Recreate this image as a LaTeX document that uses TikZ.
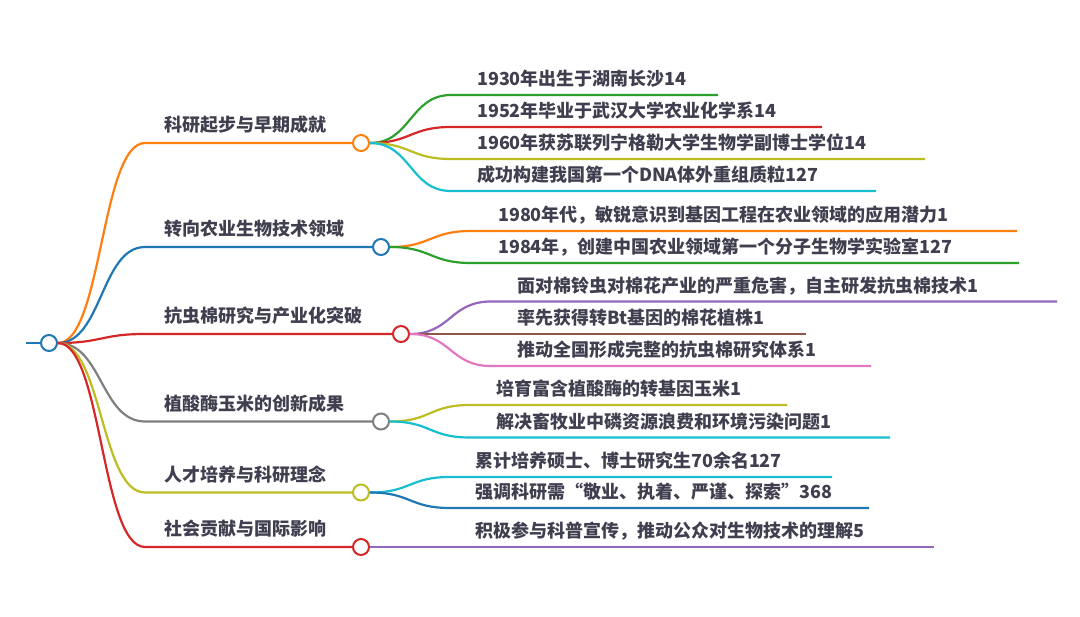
\documentclass[tikz,border=0pt]{standalone}
\usepackage{fontspec}
\setmainfont{Noto Sans CJK SC}
\definecolor{ink}{HTML}{3F3F4F}
\definecolor{tabblue}{HTML}{1F77B4}
\definecolor{taborange}{HTML}{FF7F0E}
\definecolor{tabgreen}{HTML}{2CA02C}
\definecolor{tabred}{HTML}{D62728}
\definecolor{tabpurple}{HTML}{9467BD}
\definecolor{tabbrown}{HTML}{8C564B}
\definecolor{tabpink}{HTML}{E377C2}
\definecolor{tabgray}{HTML}{7F7F7F}
\definecolor{tabolive}{HTML}{BCBD22}
\definecolor{tabcyan}{HTML}{17BECF}
\begin{document}
\begin{tikzpicture}[
    x=1pt, y=-1pt,
    line width=2.2pt,
    every node/.style={text=ink, font=\fontsize{18}{22}\selectfont\bfseries, inner sep=0pt, anchor=base west},
    dot/.style={circle, draw, fill=white, line width=2pt, minimum size=16pt, inner sep=0pt, anchor=center}
  ]
    \useasboundingbox (0,0) rectangle (1080,617);

    \node[dot, draw=tabblue] (root) at (49,343) {};
    \coordinate (stub) at (26,343);
    \draw[tabblue] (stub) -- (root.west);

    \node[dot, draw=taborange] (early) at (361,143) {};
    \node[dot, draw=tabblue] (agri) at (381,247) {};
    \node[dot, draw=tabred] (cotton) at (401,334) {};
    \node[dot, draw=tabgray] (maize) at (381,421.5) {};
    \node[dot, draw=tabolive] (talent) at (361,492.5) {};
    \node[dot, draw=tabred] (society) at (361,547) {};

    \node (earlylabel) at (163,132) {科研起步与早期成就};
    \node (agrilabel) at (163,236) {转向农业生物技术领域};
    \node (cottonlabel) at (163,323) {抗虫棉研究与产业化突破};
    \node (maizelabel) at (163,410.5) {植酸酶玉米的创新成果};
    \node (talentlabel) at (163,481.5) {人才培养与科研理念};
    \node (societylabel) at (163,536) {社会贡献与国际影响};

    \coordinate (earlyin) at (145,143);
    \coordinate (agriin) at (145,247);
    \coordinate (cottonin) at (145,334);
    \coordinate (maizein) at (145,421.5);
    \coordinate (talentin) at (145,492.5);
    \coordinate (societyin) at (145,547);
    \draw[taborange] (root.east) .. controls +(44,0) and +(-44,0) .. (earlyin) -- (early.west);
    \draw[tabblue] (root.east) .. controls +(44,0) and +(-44,0) .. (agriin) -- (agri.west);
    \draw[tabred] (root.east) .. controls +(44,0) and +(-44,0) .. (cottonin) -- (cotton.west);
    \draw[tabgray] (root.east) .. controls +(44,0) and +(-44,0) .. (maizein) -- (maize.west);
    \draw[tabolive] (root.east) .. controls +(44,0) and +(-44,0) .. (talentin) -- (talent.west);
    \draw[tabred] (root.east) .. controls +(44,0) and +(-44,0) .. (societyin) -- (society.west);

    \node (early1) at (476,86) {1930年出生于湖南长沙14};
    \node (early2) at (476,118) {1952年毕业于武汉大学农业化学系14};
    \node (early3) at (476,150) {1960年获苏联列宁格勒大学生物学副博士学位14};
    \node (early4) at (476,182) {成功构建我国第一个DNA体外重组质粒127};
    \coordinate (early1in) at (451,95);  \coordinate (early1out) at (718,95);
    \coordinate (early2in) at (451,127); \coordinate (early2out) at (822,127);
    \coordinate (early3in) at (451,159); \coordinate (early3out) at (925,159);
    \coordinate (early4in) at (451,191); \coordinate (early4out) at (876,191);
    \draw[tabgreen] (early.east) .. controls +(41,0) and +(-41,0) .. (early1in) -- (early1out);
    \draw[tabred] (early.east) .. controls +(41,0) and +(-41,0) .. (early2in) -- (early2out);
    \draw[tabolive] (early.east) .. controls +(41,0) and +(-41,0) .. (early3in) -- (early3out);
    \draw[tabcyan] (early.east) .. controls +(41,0) and +(-41,0) .. (early4in) -- (early4out);

    \node (agri1) at (497,222) {1980年代，敏锐意识到基因工程在农业领域的应用潜力1};
    \node (agri2) at (497,254) {1984年，创建中国农业领域第一个分子生物学实验室127};
    \coordinate (agri1in) at (471,231); \coordinate (agri1out) at (1017,231);
    \coordinate (agri2in) at (471,263); \coordinate (agri2out) at (1019,263);
    \draw[taborange] (agri.east) .. controls +(41,0) and +(-41,0) .. (agri1in) -- (agri1out);
    \draw[tabgreen] (agri.east) .. controls +(41,0) and +(-41,0) .. (agri2in) -- (agri2out);

    \node (cotton1) at (516,292.5) {面对棉铃虫对棉花产业的严重危害，自主研发抗虫棉技术1};
    \node (cotton2) at (516,325) {率先获得转Bt基因的棉花植株1};
    \node (cotton3) at (516,357) {推动全国形成完整的抗虫棉研究体系1};
    \coordinate (cotton1in) at (491,301.5); \coordinate (cotton1out) at (1057,301.5);
    \coordinate (cotton2in) at (491,334);   \coordinate (cotton2out) at (806,334);
    \coordinate (cotton3in) at (491,366);   \coordinate (cotton3out) at (871,366);
    \draw[tabpurple] (cotton.east) .. controls +(41,0) and +(-41,0) .. (cotton1in) -- (cotton1out);
    \draw[tabbrown] (cotton.east) .. controls +(41,0) and +(-41,0) .. (cotton2in) -- (cotton2out);
    \draw[tabpink] (cotton.east) .. controls +(41,0) and +(-41,0) .. (cotton3in) -- (cotton3out);

    \node (maize1) at (495,396) {培育富含植酸酶的转基因玉米1};
    \node (maize2) at (495,428.5) {解决畜牧业中磷资源浪费和环境污染问题1};
    \coordinate (maize1in) at (470,405);   \coordinate (maize1out) at (787,405);
    \coordinate (maize2in) at (470,437.5); \coordinate (maize2out) at (890,437.5);
    \draw[tabolive] (maize.east) .. controls +(41,0) and +(-41,0) .. (maize1in) -- (maize1out);
    \draw[tabcyan] (maize.east) .. controls +(41,0) and +(-41,0) .. (maize2in) -- (maize2out);

    \node (talent1) at (474,468) {累计培养硕士、博士研究生70余名127};
    \node (talent2) at (474,499) {强调科研需“敬业、执着、严谨、探索”368};
    \coordinate (talent1in) at (450,477); \coordinate (talent1out) at (832,477);
    \coordinate (talent2in) at (450,508); \coordinate (talent2out) at (869,508);
    \draw[tabcyan] (talent.east) .. controls +(41,0) and +(-41,0) .. (talent1in) -- (talent1out);
    \draw[tabblue] (talent.east) .. controls +(41,0) and +(-41,0) .. (talent2in) -- (talent2out);

    \node (society1) at (474,538) {积极参与科普宣传，推动公众对生物技术的理解5};
    \coordinate (society1out) at (934,547);
    \draw[tabpurple] (society.east) -- (society1out);
  \end{tikzpicture}
\end{document}
